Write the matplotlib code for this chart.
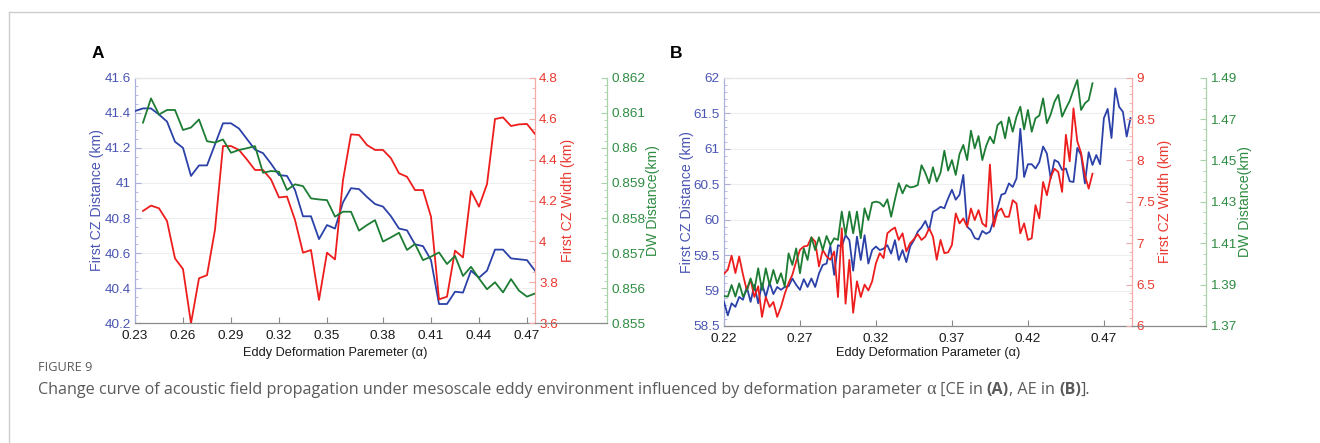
import numpy as np
import matplotlib
matplotlib.use("Agg")
import matplotlib.pyplot as plt
from matplotlib.ticker import FixedLocator, AutoMinorLocator, FuncFormatter
from matplotlib.lines import Line2D

W, H, DPI = 1320, 443, 100

# ---------------- Panel A data (CE) ----------------
a_index = np.arange(51)
a_tick_index = [0, 6, 12, 18, 24, 31, 37, 43, 49]
a_tick_labels = ["0.23", "0.26", "0.29", "0.32", "0.35", "0.38", "0.41", "0.44", "0.47"]
a_cz_distance = [41.41, 41.425, 41.425, 41.39, 41.35, 41.235, 41.20, 41.04, 41.10, 41.10,
                 41.22, 41.34, 41.34, 41.31, 41.25, 41.19, 41.17, 41.11, 41.045, 41.04,
                 40.96, 40.81, 40.81, 40.68, 40.76, 40.74, 40.89, 40.97, 40.965, 40.92,
                 40.88, 40.865, 40.81, 40.74, 40.73, 40.65, 40.64, 40.56, 40.31, 40.31,
                 40.38, 40.375, 40.50, 40.46, 40.50, 40.62, 40.62, 40.57, 40.565, 40.56,
                 40.50]
a_cz_width = [4.149, 4.175, 4.162, 4.10, 3.917, 3.865, 3.60, 3.82, 3.835,
              4.058, 4.466, 4.466, 4.447, 4.40, 4.349, 4.349, 4.303, 4.215, 4.219,
              4.105, 3.945, 3.958, 3.714, 3.945, 3.912, 4.30, 4.523, 4.52, 4.471,
              4.447, 4.447, 4.406, 4.333, 4.316, 4.251, 4.251, 4.121, 3.717, 3.73,
              3.955, 3.922, 4.246, 4.17, 4.28, 4.598, 4.606, 4.564, 4.572, 4.574,
              4.525]
a_dw_distance = [0.86072, 0.86141, 0.86095, 0.86108, 0.86108, 0.86051, 0.86058, 0.86081, 0.86019,
                 0.86015, 0.86024, 0.85986, 0.85994, 0.85999, 0.86005, 0.85929, 0.85934, 0.85932, 0.85880,
                 0.85896, 0.85891, 0.85856, 0.85853, 0.85851, 0.85804, 0.85818, 0.85818, 0.85764, 0.85780,
                 0.85794, 0.85733, 0.85745, 0.85758, 0.85709, 0.85726, 0.85680, 0.85690, 0.85702, 0.85669,
                 0.85692, 0.85635, 0.85661, 0.85628, 0.85597, 0.85617, 0.85588, 0.85626, 0.85593, 0.85576,
                 0.85585]
a_dist_ticks = [40.2, 40.4, 40.6, 40.8, 41.0, 41.2, 41.4, 41.6]
a_width_ticks = [3.6, 3.8, 4.0, 4.2, 4.4, 4.6, 4.8]
a_dw_ticks = [0.855, 0.856, 0.857, 0.858, 0.859, 0.860, 0.861, 0.862]

# ---------------- Panel B data (AE) ----------------
b_alpha = np.round(0.22 + 0.0025 * np.arange(108), 4)
b_tick_values = [0.22, 0.27, 0.32, 0.37, 0.42, 0.47]
b_tick_labels = ["0.22", "0.27", "0.32", "0.37", "0.42", "0.47"]
b_cz_distance = [58.84, 58.65, 58.82, 58.77, 58.91, 58.87, 59.05, 58.84, 59.08, 58.82,
                 59.10, 58.91, 59.11, 58.95, 59.05, 59.01, 59.05, 59.06, 59.17, 59.08,
                 59.01, 59.16, 59.05, 59.17, 59.05, 59.24, 59.36, 59.38, 59.63, 59.22,
                 59.64, 59.62, 59.78, 59.71, 59.28, 59.76, 59.43, 59.78, 59.38, 59.57,
                 59.62, 59.57, 59.59, 59.64, 59.52, 59.71, 59.43, 59.57, 59.40, 59.62,
                 59.71, 59.83, 59.89, 59.98, 59.85, 60.11, 60.14, 60.18, 60.16, 60.30,
                 60.42, 60.28, 60.35, 60.63, 59.90, 59.85, 59.74, 59.72, 59.84, 59.80,
                 59.83, 59.99, 60.16, 60.35, 60.37, 60.51, 60.46, 60.58, 61.28, 60.60,
                 60.78, 60.78, 60.72, 60.81, 61.03, 60.93, 60.58, 60.84, 60.81, 60.70,
                 60.72, 60.54, 60.53, 61.01, 60.91, 60.51, 60.95, 60.77, 60.91, 60.78,
                 61.43, 61.56, 61.15, 61.85, 61.59, 61.52, 61.17, 61.43]
b_cz_width = [6.63, 6.68, 6.85, 6.64, 6.84, 6.62, 6.43, 6.56, 6.35, 6.48,
              6.11, 6.35, 6.23, 6.29, 6.11, 6.23, 6.39, 6.52, 6.62, 6.78,
              6.92, 6.96, 6.97, 7.07, 7.02, 6.72, 6.92, 6.84, 6.80, 6.90,
              6.35, 7.18, 6.27, 6.80, 6.16, 6.54, 6.35, 6.50, 6.43, 6.54,
              6.76, 6.88, 6.82, 7.12, 7.16, 7.19, 7.04, 7.12, 6.90, 7.00,
              7.05, 7.11, 7.04, 7.08, 7.18, 7.08, 6.80, 7.04, 6.88, 6.89,
              6.98, 7.36, 7.24, 7.30, 7.20, 7.42, 7.28, 7.40, 7.24, 7.20,
              7.95, 7.20, 7.38, 7.42, 7.32, 7.32, 7.52, 7.48, 7.12, 7.24,
              7.04, 7.06, 7.46, 7.30, 7.74, 7.58, 7.80, 7.90, 7.86, 7.62,
              8.31, 7.99, 8.63, 8.23, 8.09, 7.82, 7.66, 7.84]
b_dw_distance = [1.3845, 1.3842, 1.3898, 1.3842, 1.3906, 1.3842, 1.3874, 1.3930, 1.3874, 1.3979,
                 1.3874, 1.3979, 1.3898, 1.3971, 1.3906, 1.3955, 1.3890, 1.4051, 1.3995, 1.4075,
                 1.3955, 1.4075, 1.4019, 1.4129, 1.4067, 1.4129, 1.4067, 1.4135, 1.4091, 1.4124,
                 1.4116, 1.4253, 1.4140, 1.4253, 1.4148, 1.4253, 1.4124, 1.4269, 1.4212, 1.4296,
                 1.4301, 1.4296, 1.4277, 1.4312, 1.4228, 1.4312, 1.4390, 1.4341, 1.4381, 1.4370,
                 1.4373, 1.4381, 1.4477, 1.4440, 1.4390, 1.4467, 1.4398, 1.4441, 1.4547, 1.4451,
                 1.4502, 1.4430, 1.4531, 1.4575, 1.4502, 1.4644, 1.4559, 1.4618, 1.4502, 1.4570,
                 1.4615, 1.4583, 1.4671, 1.4688, 1.4607, 1.4709, 1.4639, 1.4712, 1.4760, 1.4650,
                 1.4744, 1.4639, 1.4704, 1.4717, 1.4800, 1.4680, 1.4723, 1.4784, 1.4817, 1.4712,
                 1.4752, 1.4788, 1.4841, 1.4889, 1.4744, 1.4776, 1.4792, 1.4873]
b_dist_ticks = [58.5, 59.0, 59.5, 60.0, 60.5, 61.0, 61.5, 62.0]
b_width_ticks = [6.0, 6.5, 7.0, 7.5, 8.0, 8.5, 9.0]
b_dw_ticks = [1.37, 1.39, 1.41, 1.43, 1.45, 1.47, 1.49]

# ---------------- style ----------------
BLUE, RED, GREEN = "#2b41a8", "#ee1d1d", "#1d7c33"
BLUE_T, RED_T, GREEN_T = "#4a55b3", "#e8392f", "#2e8c42"
BLUE_S, RED_S, GREEN_S = "#aab0da", "#f2aaa6", "#a9d2ab"
GREY_S = "#8a8a8a"
AXFONT = "Liberation Sans"
TICK_FS = 9.7
LW = 1.3

fmt = FuncFormatter(lambda v, p: "%g" % round(v, 6))

fig = plt.figure(figsize=(W / DPI, H / DPI), dpi=DPI)


def rect(l, t, r, b):
    return [l / W, 1 - b / H, (r - l) / W, (b - t) / H]


def build(l, t, r, b, gx, xlim, xt, xtl, xdata, blue, red_x, red, green_x, green,
          dticks, wticks, gticks, minors, xlabel, letter, letter_xy, ylab_x):
    ax = fig.add_axes(rect(l, t, r, b))
    axr = ax.twinx()
    axg = ax.twinx()
    off = (gx - l) / (r - l)
    axg.spines["right"].set_position(("axes", off))

    for a in (ax, axr, axg):
        a.set_xlim(*xlim)
        for sp in a.spines.values():
            sp.set_visible(False)
    ax.spines["left"].set_visible(True)
    ax.spines["left"].set_color(BLUE_S)
    ax.spines["bottom"].set_visible(True)
    ax.spines["bottom"].set_color(GREY_S)
    ax.spines["top"].set_visible(True)
    ax.spines["top"].set_color("#e6e6e6")
    axr.spines["right"].set_visible(True)
    axr.spines["right"].set_color(RED_S)
    axg.spines["right"].set_visible(True)
    axg.spines["right"].set_color(GREEN_S)
    for a in (ax, axr, axg):
        for sp in a.spines.values():
            sp.set_linewidth(0.9)

    # extension of the bottom axis line to the third axis
    fig.add_artist(Line2D([1, off], [0, 0], transform=ax.transAxes, color=GREY_S, lw=0.9))

    ax.plot(xdata, blue, color=BLUE, lw=LW, zorder=3)
    axr.plot(red_x, red, color=RED, lw=LW, zorder=3)
    axg.plot(green_x, green, color=GREEN, lw=LW, zorder=3)

    ax.set_ylim(dticks[0], dticks[-1])
    axr.set_ylim(wticks[0], wticks[-1])
    axg.set_ylim(gticks[0], gticks[-1])
    for a, tk, col, tcol, mn in ((ax, dticks, BLUE_S, BLUE_T, minors[0]),
                                 (axr, wticks, RED_S, RED_T, minors[1]),
                                 (axg, gticks, GREEN_S, GREEN_T, minors[2])):
        a.yaxis.set_major_locator(FixedLocator(tk))
        a.yaxis.set_major_formatter(fmt)
        a.yaxis.set_minor_locator(AutoMinorLocator(mn))
        a.tick_params(axis="y", which="major", direction="in", length=4, width=0.8,
                      color=col, labelcolor=tcol, labelsize=TICK_FS, pad=3)
        a.tick_params(axis="y", which="minor", direction="in", length=2, width=0.6, color=col)
        for lab in a.get_yticklabels():
            lab.set_fontfamily(AXFONT)

    ax.yaxis.grid(True, color="#eeeeee", lw=0.8)
    ax.set_axisbelow(True)
    ax.xaxis.set_major_locator(FixedLocator(xt))
    ax.set_xticklabels(xtl, fontfamily=AXFONT, fontsize=TICK_FS)
    ax.tick_params(axis="x", direction="in", length=4, width=0.8, color=GREY_S,
                   labelcolor="#1a1a1a", pad=5)
    axr.tick_params(axis="x", bottom=False, labelbottom=False)
    axg.tick_params(axis="x", bottom=False, labelbottom=False)

    cx = (l + r) / 2
    fig.text(cx / W, 1 - 353 / H, xlabel, ha="center", va="center",
             fontfamily=AXFONT, fontsize=9.2, color="#1a1a1a")
    yc = 1 - ((t + b) / 2) / H
    fig.text(ylab_x[0] / W, yc, "First CZ Distance (km)", rotation=90, ha="center", va="center",
             fontfamily=AXFONT, fontsize=10.2, color=BLUE_T)
    fig.text(ylab_x[1] / W, yc, "First CZ Width (km)", rotation=90, ha="center", va="center",
             fontfamily=AXFONT, fontsize=10.2, color=RED_T)
    fig.text(ylab_x[2] / W, yc, "DW Distance(km)", rotation=90, ha="center", va="center",
             fontfamily=AXFONT, fontsize=10.2, color=GREEN_T)
    fig.text(letter_xy[0] / W, 1 - letter_xy[1] / H, letter, ha="center", va="center",
             fontfamily=AXFONT, fontweight="bold", fontsize=12.5, color="black")
    return ax


build(135, 77.7, 535, 323.3, 607, (0, 50), a_tick_index, a_tick_labels,
      a_index, a_cz_distance, a_index[1:], a_cz_width, a_index[1:], a_dw_distance,
      a_dist_ticks, a_width_ticks, a_dw_ticks, (4, 4, 5),
      "Eddy Deformation Paremeter (\u03b1)", "A", (98, 53), (97, 568, 653))

build(724, 77.7, 1132, 326, 1205.7, (0.22, 0.4885), b_tick_values, b_tick_labels,
      b_alpha, b_cz_distance, b_alpha[:len(b_cz_width)], b_cz_width,
      b_alpha[:len(b_dw_distance)], b_dw_distance,
      b_dist_ticks, b_width_ticks, b_dw_ticks, (5, 5, 4),
      "Eddy Deformation Parameter (\u03b1)", "B", (676, 54), (687, 1165, 1245))

# ---------------- frame and caption ----------------
fig.add_artist(Line2D([9 / W, 1], [1 - 11.5 / H, 1 - 11.5 / H], transform=fig.transFigure,
                      color="#cccccc", lw=1.0))
fig.add_artist(Line2D([9 / W, 9 / W], [0, 1 - 11.5 / H], transform=fig.transFigure,
                      color="#cccccc", lw=1.0))

fig.text(38 / W, 1 - 371 / H, "FIGURE 9", ha="left", va="baseline",
         fontfamily="Open Sans", fontsize=9.2, color="#5a5a5a")

renderer = fig.canvas.get_renderer()


def text_width(s, **kw):
    t1 = fig.text(0, 0, "|" + s + "|", **kw)
    t2 = fig.text(0, 0, "||", **kw)
    w = t1.get_window_extent(renderer).width - t2.get_window_extent(renderer).width
    t1.remove()
    t2.remove()
    return w


cap_runs = [
    ("Change curve of acoustic field propagation under mesoscale eddy environment influenced by deformation parameter ", "Open Sans", "normal"),
    ("\u03b1", "Liberation Serif", "normal"),
    (" [CE in ", "Open Sans", "normal"),
    ("(A)", "Open Sans", "bold"),
    (", AE in ", "Open Sans", "normal"),
    ("(B)", "Open Sans", "bold"),
    ("].", "Open Sans", "normal"),
]
x = 38.0
CAP_FS = 11.65
for s, fam, wt in cap_runs:
    kw = dict(fontfamily=fam, fontweight=wt, fontsize=CAP_FS if fam == "Open Sans" else CAP_FS + 1.5,
              color="#5a5a5a", ha="left", va="baseline")
    fig.text(x / W, 1 - 394 / H, s, **kw)
    x += text_width(s, **kw)

fig.savefig("out.png", dpi=DPI)
